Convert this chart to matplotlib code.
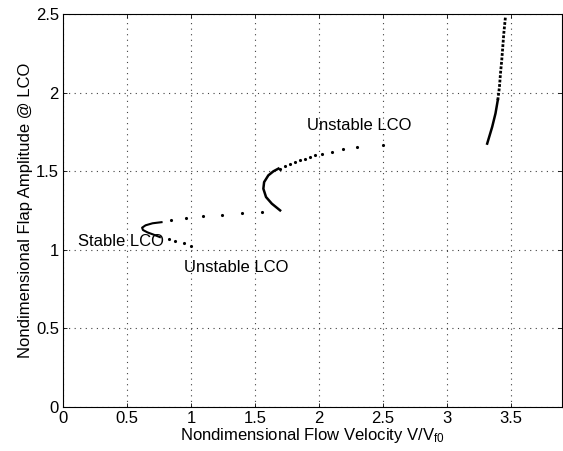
import matplotlib
matplotlib.use('Agg')
import matplotlib.pyplot as plt

plt.rcParams['font.family'] = ['Liberation Sans', 'DejaVu Sans']
plt.rcParams['mathtext.default'] = 'regular'
plt.rcParams['font.size'] = 12

# stable LCO branch (solid)
stable_v = [0.77, 0.70, 0.645, 0.618, 0.625, 0.66, 0.71, 0.757]
stable_a = [1.175, 1.168, 1.155, 1.140, 1.125, 1.110, 1.095, 1.080]

# unstable branch, upper dots
unst1_v = [0.843, 0.960, 1.096, 1.245, 1.397, 1.554]
unst1_a = [1.186, 1.201, 1.214, 1.223, 1.231, 1.239]

# unstable branch, lower dots
unst2_v = [0.830, 0.875, 0.945, 1.000]
unst2_a = [1.070, 1.054, 1.041, 1.025]

# second stable branch (solid)
stable2_v = [1.697, 1.632, 1.587, 1.566, 1.572, 1.605, 1.645, 1.684]
stable2_a = [1.250, 1.293, 1.335, 1.388, 1.430, 1.473, 1.499, 1.516]

# unstable branch after the turning point
unst3_v = [1.697, 1.736, 1.775, 1.815, 1.854, 1.893, 1.932, 1.971, 2.024, 2.102, 2.188, 2.302, 2.501]
unst3_a = [1.516, 1.533, 1.548, 1.561, 1.569, 1.580, 1.590, 1.601, 1.612, 1.622, 1.639, 1.654, 1.669]

# high velocity branch
high_v = [3.316, 3.355, 3.381, 3.399]
high_a = [1.675, 1.781, 1.867, 1.952]
high2_v = [3.399, 3.412, 3.420, 3.430, 3.438, 3.446, 3.459]
high2_a = [1.952, 2.036, 2.122, 2.207, 2.291, 2.377, 2.483]

fig = plt.figure(figsize=(5.63, 4.51), dpi=100)
ax = fig.add_axes([0.112, 0.098, 0.886, 0.871])

ax.plot(stable_v, stable_a, '-', color='k', lw=1.5)
ax.plot(unst1_v, unst1_a, '.', color='k', ms=2.5)
ax.plot(unst2_v, unst2_a, '.', color='k', ms=2.5)
ax.plot(stable2_v, stable2_a, '-', color='k', lw=1.8)
ax.plot(unst3_v, unst3_a, '.', color='k', ms=2.5)
ax.plot(high_v, high_a, '-', color='k', lw=1.8)
ax.plot(high2_v, high2_a, linestyle=(0, (1, 0.6)), color='k', lw=2.0)

ax.text(0.115, 1.05, 'Stable LCO', va='center', ha='left')
ax.text(0.945, 0.888, 'Unstable LCO', va='center', ha='left')
ax.text(1.906, 1.792, 'Unstable LCO', va='center', ha='left')

ax.set_xlim(0, 3.9)
ax.set_ylim(0, 2.5)
ax.set_xticks([0, 0.5, 1, 1.5, 2, 2.5, 3, 3.5])
ax.set_xticklabels(['0', '0.5', '1', '1.5', '2', '2.5', '3', '3.5'])
ax.set_yticks([0, 0.5, 1, 1.5, 2, 2.5])
ax.set_yticklabels(['0', '0.5', '1', '1.5', '2', '2.5'])
ax.tick_params(direction='in', top=True, right=True, length=3, width=0.6, pad=3)
ax.grid(True, linestyle=(0, (1, 4)), color='0.25', lw=0.8)
for s in ax.spines.values():
    s.set_linewidth(0.8)

ax.set_xlabel('Nondimensional Flow Velocity V/V$_{f0}$', labelpad=0)
ax.set_ylabel('Nondimensional Flap Amplitude @ LCO', labelpad=2)

plt.savefig('out.png', dpi=100)
